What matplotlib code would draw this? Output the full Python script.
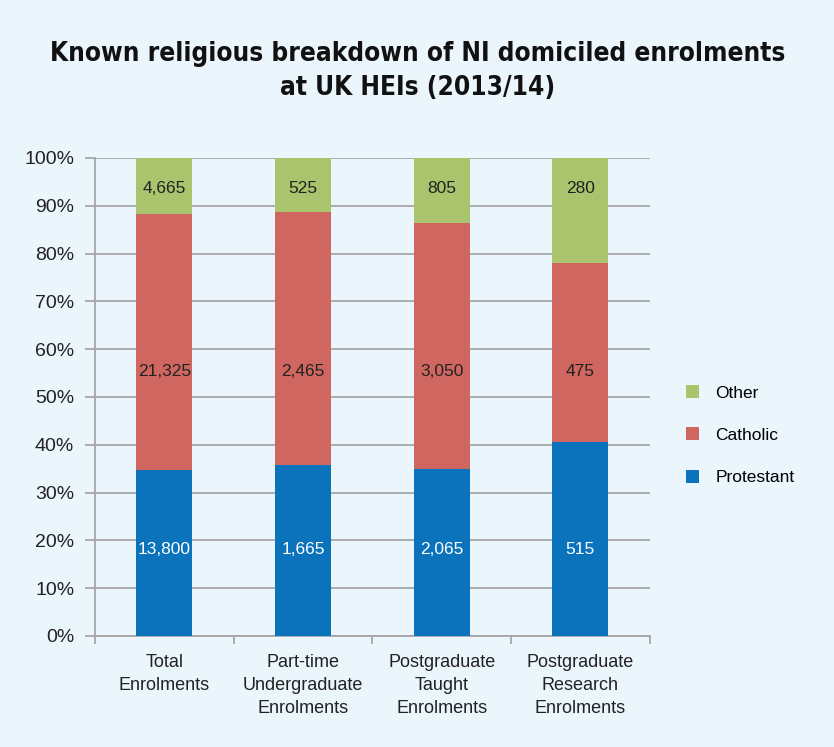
import matplotlib.pyplot as plt
import numpy as np
from matplotlib.ticker import FixedLocator, PercentFormatter

# Enrolment counts by religion
categories = ["Total\nEnrolments", "Part-time\nUndergraduate\nEnrolments",
              "Postgraduate\nTaught\nEnrolments", "Postgraduate\nResearch\nEnrolments"]
protestant = [13800, 1665, 2065, 515]
catholic = [21325, 2465, 3050, 475]
other = [4665, 525, 805, 280]

bg = "#EAF5FC"
colors = {"Protestant": "#0A73BB", "Catholic": "#CF6760", "Other": "#A9C46C"}

plt.rcParams['font.family'] = ['Liberation Sans', 'DejaVu Sans']

prot = np.array(protestant, dtype=float)
cath = np.array(catholic, dtype=float)
oth = np.array(other, dtype=float)
total = prot + cath + oth
p_pct = prot / total * 100
c_pct = cath / total * 100
o_pct = oth / total * 100

fig = plt.figure(figsize=(8.34, 7.47), dpi=100, facecolor=bg)
ax = fig.add_axes([0.114, 0.1486, 0.665, 0.64])
ax.set_facecolor(bg)

x = np.arange(len(categories))
w = 0.405
b1 = ax.bar(x, p_pct, w, color=colors["Protestant"], label="Protestant", zorder=3)
b2 = ax.bar(x, c_pct, w, bottom=p_pct, color=colors["Catholic"], label="Catholic", zorder=3)
b3 = ax.bar(x, o_pct, w, bottom=p_pct + c_pct, color=colors["Other"], label="Other", zorder=3)

# value labels sit at fixed heights in each column
for i in range(len(x)):
    ax.text(x[i], 18.0, f"{protestant[i]:,}", ha="center", va="center",
            fontsize=12.5, color="white", zorder=4)
    ax.text(x[i], 55.4, f"{catholic[i]:,}", ha="center", va="center",
            fontsize=12.5, color="#222222", zorder=4)
    ax.text(x[i], 93.7, f"{other[i]:,}", ha="center", va="center",
            fontsize=12.5, color="#222222", zorder=4)

ax.set_ylim(0, 100)
ax.set_xlim(-0.5, len(categories) - 0.5)
ax.yaxis.set_major_locator(FixedLocator(np.arange(0, 101, 10)))
ax.yaxis.set_major_formatter(PercentFormatter(decimals=0))
ax.grid(axis="y", color="#A6A6A6", linewidth=1.3, zorder=0)

ax.set_xticks(np.arange(-0.5, len(categories), 1.0))
ax.set_xticklabels([])
ax.set_xticks(x, minor=True)
ax.set_xticklabels(categories, minor=True, fontsize=13, color="#222222",
                   linespacing=1.45)
ax.tick_params(axis="x", which="minor", length=0, pad=13)
ax.tick_params(axis="x", which="major", length=6, color="#A6A6A6", width=1.3)
ax.tick_params(axis="y", length=7, color="#A6A6A6", width=1.3,
               labelsize=14, labelcolor="#222222", pad=8)

for s in ["top", "right"]:
    ax.spines[s].set_visible(False)
for s in ["left", "bottom"]:
    ax.spines[s].set_color("#A6A6A6")
    ax.spines[s].set_linewidth(1.3)

handles = [b3, b2, b1]
leg = ax.legend(handles, ["Other", "Catholic", "Protestant"], loc="center left",
                bbox_to_anchor=(1.037, 0.42), frameon=False, fontsize=12.5,
                handlelength=0.75, handleheight=0.75, handletextpad=0.95,
                labelspacing=1.55)

fig.text(0.501, 0.905, "Known religious breakdown of NI domiciled enrolments\nat UK HEIs (2013/14)",
         ha="center", va="center", fontsize=18.8, fontweight="bold",
         family="DejaVu Sans", fontstretch="condensed", linespacing=1.4,
         color="#111111")

fig.savefig("out.png", dpi=100, facecolor=bg)
